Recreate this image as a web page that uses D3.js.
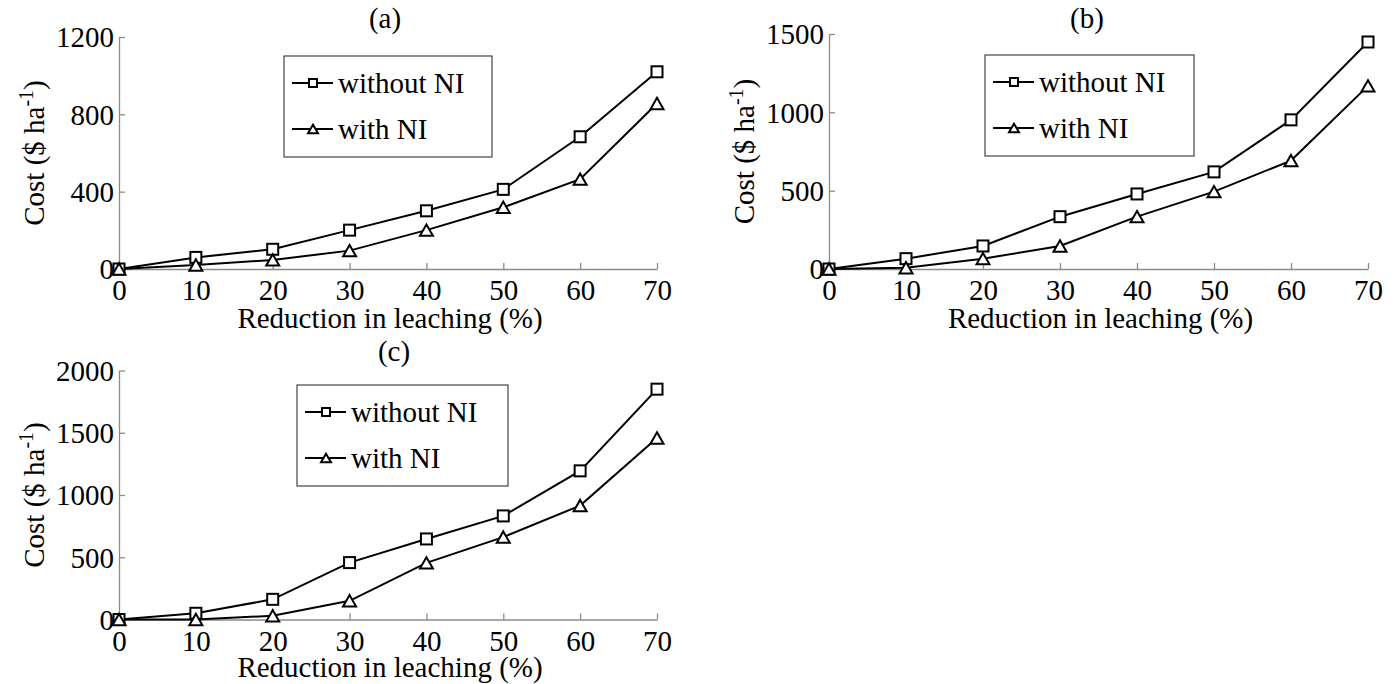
<!DOCTYPE html>
<html>
<head>
<meta charset="utf-8">
<script src="https://cdn.jsdelivr.net/npm/d3@7"></script>
<style>
  body { margin: 0; background: #fff; }
  svg text { font-family: "Liberation Serif", Tinos, "Times New Roman", Times, "DejaVu Serif", serif; }
</style>
</head>
<body>
<svg id="chart" width="1399" height="684"></svg>
<script>
// data
const reduction = [0, 10, 20, 30, 40, 50, 60, 70];
const seriesNames = ['without NI', 'with NI'];
const panelLabels = ['(a)', '(b)', '(c)'];

const costA_without = [0, 60, 102, 201, 301, 412, 684, 1020];
const costA_with    = [0, 21, 47, 95, 201, 319, 465, 856];
const costB_without = [0, 66, 147, 334, 479, 620, 952, 1449];
const costB_with    = [0, 8, 66, 147, 334, 494, 692, 1169];
const costC_without = [0, 50, 162, 457, 647, 832, 1194, 1850];
const costC_with    = [0, 0, 30, 150, 455, 662, 915, 1458];

const yTicksA = [0, 400, 800, 1200];
const yTicksB = [0, 500, 1000, 1500];
const yTicksC = [0, 500, 1000, 1500, 2000];
const xTicks = reduction;

const xLabel = 'Reduction in leaching (%)';

// layout of the three panels
const panels = [
  { label: panelLabels[0], series: [costA_without, costA_with], yTicks: yTicksA,
    x0: 119, x1: 657, yBot: 269, yTop: 37, titleX: 385, titleY: 28,
    xLabY: 328, yLabX: 44, legend: { x: 284, y: 56, w: 208, h: 101 } },
  { label: panelLabels[1], series: [costB_without, costB_with], yTicks: yTicksB,
    x0: 829, x1: 1368, yBot: 269, yTop: 34, titleX: 1087, titleY: 28,
    xLabY: 328, yLabX: 754, legend: { x: 985, y: 55, w: 209, h: 101 } },
  { label: panelLabels[2], series: [costC_without, costC_with], yTicks: yTicksC,
    x0: 119, x1: 657, yBot: 619.5, yTop: 370.5, titleX: 394, titleY: 361,
    xLabY: 677, yLabX: 44, legend: { x: 297, y: 385, w: 211, h: 101 } }
];

const svg = d3.select('#chart');
const fontSize = 29;
const serif = '"Liberation Serif", Tinos, "Times New Roman", Times, "DejaVu Serif", serif';
const axisColor = '#8a8a8a';

function marker(g, kind, x, y, s) {
  if (kind === 0) {
    g.append('rect')
      .attr('x', x - s / 2).attr('y', y - s / 2)
      .attr('width', s).attr('height', s)
      .attr('fill', '#fff').attr('stroke', '#000').attr('stroke-width', 2);
  } else {
    const h = s * 0.95;
    g.append('path')
      .attr('d', `M${x},${y - h / 2}L${x + s / 2 + 0.5},${y + h / 2}L${x - s / 2 - 0.5},${y + h / 2}Z`)
      .attr('fill', '#fff').attr('stroke', '#000').attr('stroke-width', 2);
  }
}

panels.forEach(p => {
  const g = svg.append('g');

  const x = d3.scaleLinear().domain([0, 70]).range([p.x0, p.x1]);
  const y = d3.scaleLinear()
    .domain([0, d3.max(p.yTicks)])
    .range([p.yBot, p.yTop]);

  // x axis (ticks point inward)
  const xAxis = g.append('g')
    .attr('transform', `translate(0,${p.yBot})`)
    .call(d3.axisBottom(x).tickValues(xTicks).tickFormat(d3.format('d'))
      .tickSizeInner(-6).tickSizeOuter(0).tickPadding(0));
  xAxis.attr('font-family', serif).attr('font-size', fontSize);
  xAxis.select('.domain').attr('stroke', axisColor).attr('stroke-width', 1.3);
  xAxis.selectAll('.tick line').attr('stroke', axisColor).attr('stroke-width', 1.3);
  xAxis.selectAll('.tick text')
    .attr('y', 31).attr('dy', null).attr('fill', '#000');

  // y axis
  const yAxis = g.append('g')
    .attr('transform', `translate(${p.x0},0)`)
    .call(d3.axisLeft(y).tickValues(p.yTicks).tickFormat(d3.format('d'))
      .tickSizeInner(-6).tickSizeOuter(0).tickPadding(0));
  yAxis.attr('font-family', serif).attr('font-size', fontSize);
  yAxis.select('.domain').attr('stroke', axisColor).attr('stroke-width', 1.3);
  yAxis.selectAll('.tick line').attr('stroke', axisColor).attr('stroke-width', 1.3);
  yAxis.selectAll('.tick text')
    .attr('x', -5).attr('dy', '0.34em').attr('fill', '#000');

  // series lines and markers
  const line = d3.line().x((d, i) => x(reduction[i])).y(d => y(d));
  p.series.forEach(vals => {
    g.append('path')
      .datum(vals)
      .attr('d', line)
      .attr('fill', 'none')
      .attr('stroke', '#000')
      .attr('stroke-width', 2);
  });
  p.series.forEach((vals, si) => {
    vals.forEach((v, i) => marker(g, si, x(reduction[i]), y(v), si === 0 ? 11 : 12));
  });

  // panel title
  g.append('text')
    .attr('x', p.titleX).attr('y', p.titleY)
    .attr('text-anchor', 'middle')
    .attr('font-size', fontSize)
    .text(p.label);

  // x label
  g.append('text')
    .attr('x', (p.x0 + p.x1) / 2 + 2).attr('y', p.xLabY)
    .attr('text-anchor', 'middle')
    .attr('font-size', fontSize)
    .text(xLabel);

  // y label with superscript
  const yl = g.append('text')
    .attr('transform', `translate(${p.yLabX},${(p.yBot + p.yTop) / 2}) rotate(-90)`)
    .attr('text-anchor', 'middle')
    .attr('font-size', fontSize);
  yl.append('tspan').text('Cost ($ ha');
  yl.append('tspan').attr('dy', -11).attr('font-size', 20).text('-1');
  yl.append('tspan').attr('dy', 11).text(')');

  // legend
  const L = p.legend;
  const lg = g.append('g').attr('transform', `translate(${L.x},${L.y})`);
  lg.append('rect')
    .attr('width', L.w).attr('height', L.h)
    .attr('fill', '#fff').attr('stroke', '#444').attr('stroke-width', 1.2);
  seriesNames.forEach((name, si) => {
    const cy = si === 0 ? 27 : 73;
    lg.append('line')
      .attr('x1', 8).attr('x2', 49).attr('y1', cy).attr('y2', cy)
      .attr('stroke', '#000').attr('stroke-width', 2);
    marker(lg, si, 29, cy, si === 0 ? 8 : 9);
    lg.append('text')
      .attr('x', 54).attr('y', cy + 10)
      .attr('font-size', fontSize)
      .text(name);
  });
});
</script>
</body>
</html>
